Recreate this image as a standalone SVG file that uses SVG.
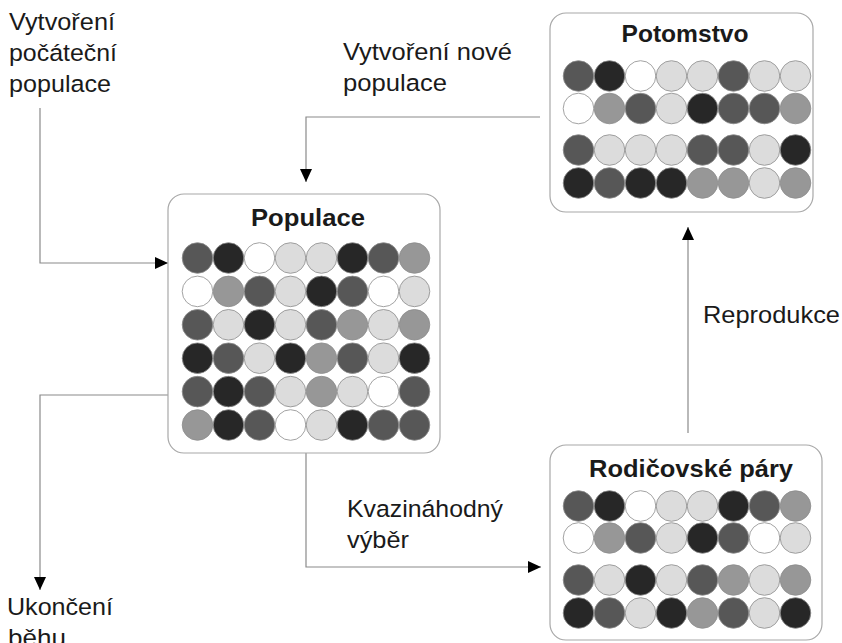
<svg xmlns="http://www.w3.org/2000/svg" width="842" height="643" viewBox="0 0 842 643">
<defs>
<style>
.lbl{font-family:"Liberation Sans",Arial,sans-serif;font-size:24.5px;fill:#1a1a1a}
.ttl{font-family:"Liberation Sans",Arial,sans-serif;font-size:24px;font-weight:bold;fill:#1a1a1a;text-anchor:middle}
.box{fill:#fff;stroke:#a8a8a8;stroke-width:1.2}
.con{fill:none;stroke:#8a8a8a;stroke-width:1.2}
circle{stroke:#8c8c8c;stroke-width:0.8}
.D{fill:#272727}.M{fill:#575757}.G{fill:#979797}.L{fill:#dcdcdc}.W{fill:#ffffff}
</style>
<marker id="arr" viewBox="0 0 13 12" refX="13" refY="6" markerWidth="13" markerHeight="12" markerUnits="userSpaceOnUse" orient="auto">
<path d="M0,0 L13,6 L0,12 Z" fill="#000"/>
</marker>
</defs>
<rect width="842" height="643" fill="#fff"/>

<g id="connectors">
<path class="con" d="M40,108 V263 H168" marker-end="url(#arr)"/>
<path class="con" d="M168,395 H40 V590" marker-end="url(#arr)"/>
<path class="con" d="M540,117 H306 V182" marker-end="url(#arr)"/>
<path class="con" d="M306,453 V567 H541" marker-end="url(#arr)"/>
<path class="con" d="M688,433 V227" marker-end="url(#arr)"/>
</g>

<g id="labels">
<text class="lbl" x="9" y="30" textLength="106" lengthAdjust="spacingAndGlyphs">Vytvoření</text>
<text class="lbl" x="9" y="61" textLength="108" lengthAdjust="spacingAndGlyphs">počáteční</text>
<text class="lbl" x="9" y="92" textLength="102" lengthAdjust="spacingAndGlyphs">populace</text>
<text class="lbl" x="343" y="60" textLength="169" lengthAdjust="spacingAndGlyphs">Vytvoření nové</text>
<text class="lbl" x="343" y="91" textLength="104" lengthAdjust="spacingAndGlyphs">populace</text>
<text class="lbl" x="7" y="615" textLength="106" lengthAdjust="spacingAndGlyphs">Ukončení</text>
<text class="lbl" x="8" y="646" textLength="58" lengthAdjust="spacingAndGlyphs">běhu</text>
<text class="lbl" x="347" y="517" textLength="156" lengthAdjust="spacingAndGlyphs">Kvazináhodný</text>
<text class="lbl" x="347" y="548" textLength="62" lengthAdjust="spacingAndGlyphs">výběr</text>
<text class="lbl" x="703" y="323" textLength="137" lengthAdjust="spacingAndGlyphs">Reprodukce</text>
</g>

<g id="populace">
<rect class="box" x="168" y="194" width="272" height="259" rx="16"/>
<text class="ttl" x="308" y="226" textLength="114" lengthAdjust="spacingAndGlyphs">Populace</text>
<g transform="translate(197.5,258)">
<circle class="M" cx="0" cy="0" r="15.3"/><circle class="D" cx="31" cy="0" r="15.3"/><circle class="W" cx="62" cy="0" r="15.3"/><circle class="L" cx="93" cy="0" r="15.3"/><circle class="L" cx="124" cy="0" r="15.3"/><circle class="D" cx="155" cy="0" r="15.3"/><circle class="M" cx="186" cy="0" r="15.3"/><circle class="G" cx="217" cy="0" r="15.3"/>
<circle class="W" cx="0" cy="33.4" r="15.3"/><circle class="G" cx="31" cy="33.4" r="15.3"/><circle class="M" cx="62" cy="33.4" r="15.3"/><circle class="L" cx="93" cy="33.4" r="15.3"/><circle class="D" cx="124" cy="33.4" r="15.3"/><circle class="M" cx="155" cy="33.4" r="15.3"/><circle class="W" cx="186" cy="33.4" r="15.3"/><circle class="L" cx="217" cy="33.4" r="15.3"/>
<circle class="M" cx="0" cy="66.8" r="15.3"/><circle class="L" cx="31" cy="66.8" r="15.3"/><circle class="D" cx="62" cy="66.8" r="15.3"/><circle class="L" cx="93" cy="66.8" r="15.3"/><circle class="M" cx="124" cy="66.8" r="15.3"/><circle class="G" cx="155" cy="66.8" r="15.3"/><circle class="L" cx="186" cy="66.8" r="15.3"/><circle class="G" cx="217" cy="66.8" r="15.3"/>
<circle class="D" cx="0" cy="100.2" r="15.3"/><circle class="M" cx="31" cy="100.2" r="15.3"/><circle class="L" cx="62" cy="100.2" r="15.3"/><circle class="D" cx="93" cy="100.2" r="15.3"/><circle class="G" cx="124" cy="100.2" r="15.3"/><circle class="M" cx="155" cy="100.2" r="15.3"/><circle class="L" cx="186" cy="100.2" r="15.3"/><circle class="D" cx="217" cy="100.2" r="15.3"/>
<circle class="M" cx="0" cy="133.6" r="15.3"/><circle class="D" cx="31" cy="133.6" r="15.3"/><circle class="M" cx="62" cy="133.6" r="15.3"/><circle class="L" cx="93" cy="133.6" r="15.3"/><circle class="G" cx="124" cy="133.6" r="15.3"/><circle class="L" cx="155" cy="133.6" r="15.3"/><circle class="W" cx="186" cy="133.6" r="15.3"/><circle class="M" cx="217" cy="133.6" r="15.3"/>
<circle class="G" cx="0" cy="167" r="15.3"/><circle class="D" cx="31" cy="167" r="15.3"/><circle class="M" cx="62" cy="167" r="15.3"/><circle class="W" cx="93" cy="167" r="15.3"/><circle class="L" cx="124" cy="167" r="15.3"/><circle class="D" cx="155" cy="167" r="15.3"/><circle class="M" cx="186" cy="167" r="15.3"/><circle class="M" cx="217" cy="167" r="15.3"/>
</g>
</g>

<g id="potomstvo">
<rect class="box" x="550" y="13" width="263" height="199" rx="16"/>
<text class="ttl" x="685" y="42" textLength="127" lengthAdjust="spacingAndGlyphs">Potomstvo</text>
<g transform="translate(578.5,76)">
<circle class="M" cx="0" cy="0" r="15.3"/><circle class="D" cx="31" cy="0" r="15.3"/><circle class="W" cx="62" cy="0" r="15.3"/><circle class="L" cx="93" cy="0" r="15.3"/><circle class="L" cx="124" cy="0" r="15.3"/><circle class="M" cx="155" cy="0" r="15.3"/><circle class="L" cx="186" cy="0" r="15.3"/><circle class="L" cx="217" cy="0" r="15.3"/>
<circle class="W" cx="0" cy="32.5" r="15.3"/><circle class="G" cx="31" cy="32.5" r="15.3"/><circle class="M" cx="62" cy="32.5" r="15.3"/><circle class="L" cx="93" cy="32.5" r="15.3"/><circle class="D" cx="124" cy="32.5" r="15.3"/><circle class="M" cx="155" cy="32.5" r="15.3"/><circle class="M" cx="186" cy="32.5" r="15.3"/><circle class="G" cx="217" cy="32.5" r="15.3"/>
<circle class="M" cx="0" cy="74" r="15.3"/><circle class="L" cx="31" cy="74" r="15.3"/><circle class="L" cx="62" cy="74" r="15.3"/><circle class="L" cx="93" cy="74" r="15.3"/><circle class="M" cx="124" cy="74" r="15.3"/><circle class="M" cx="155" cy="74" r="15.3"/><circle class="L" cx="186" cy="74" r="15.3"/><circle class="D" cx="217" cy="74" r="15.3"/>
<circle class="D" cx="0" cy="107" r="15.3"/><circle class="M" cx="31" cy="107" r="15.3"/><circle class="D" cx="62" cy="107" r="15.3"/><circle class="D" cx="93" cy="107" r="15.3"/><circle class="G" cx="124" cy="107" r="15.3"/><circle class="G" cx="155" cy="107" r="15.3"/><circle class="L" cx="186" cy="107" r="15.3"/><circle class="G" cx="217" cy="107" r="15.3"/>
</g>
</g>

<g id="rodicovske-pary">
<rect class="box" x="550" y="445" width="272" height="195" rx="16"/>
<text class="ttl" x="691" y="477" textLength="204" lengthAdjust="spacingAndGlyphs">Rodičovské páry</text>
<g transform="translate(578.5,506)">
<circle class="M" cx="0" cy="0" r="15.3"/><circle class="D" cx="31" cy="0" r="15.3"/><circle class="W" cx="62" cy="0" r="15.3"/><circle class="L" cx="93" cy="0" r="15.3"/><circle class="L" cx="124" cy="0" r="15.3"/><circle class="D" cx="155" cy="0" r="15.3"/><circle class="M" cx="186" cy="0" r="15.3"/><circle class="G" cx="217" cy="0" r="15.3"/>
<circle class="W" cx="0" cy="32" r="15.3"/><circle class="G" cx="31" cy="32" r="15.3"/><circle class="M" cx="62" cy="32" r="15.3"/><circle class="L" cx="93" cy="32" r="15.3"/><circle class="D" cx="124" cy="32" r="15.3"/><circle class="M" cx="155" cy="32" r="15.3"/><circle class="W" cx="186" cy="32" r="15.3"/><circle class="L" cx="217" cy="32" r="15.3"/>
<circle class="M" cx="0" cy="74" r="15.3"/><circle class="L" cx="31" cy="74" r="15.3"/><circle class="D" cx="62" cy="74" r="15.3"/><circle class="L" cx="93" cy="74" r="15.3"/><circle class="M" cx="124" cy="74" r="15.3"/><circle class="G" cx="155" cy="74" r="15.3"/><circle class="L" cx="186" cy="74" r="15.3"/><circle class="G" cx="217" cy="74" r="15.3"/>
<circle class="D" cx="0" cy="107" r="15.3"/><circle class="M" cx="31" cy="107" r="15.3"/><circle class="L" cx="62" cy="107" r="15.3"/><circle class="D" cx="93" cy="107" r="15.3"/><circle class="G" cx="124" cy="107" r="15.3"/><circle class="M" cx="155" cy="107" r="15.3"/><circle class="L" cx="186" cy="107" r="15.3"/><circle class="D" cx="217" cy="107" r="15.3"/>
</g>
</g>
</svg>
